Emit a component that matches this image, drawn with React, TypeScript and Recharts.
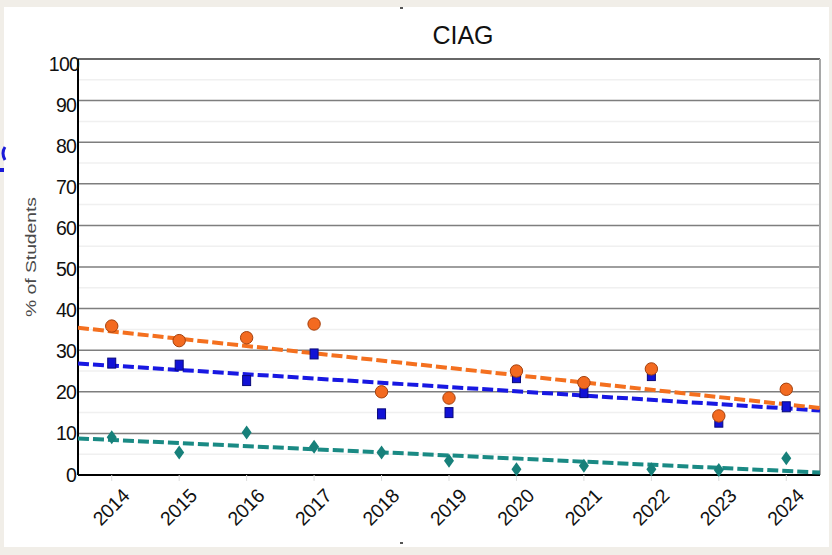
import React from "react";
import {
  ComposedChart,
  Scatter,
  XAxis,
  YAxis,
  CartesianGrid,
  ReferenceLine,
} from "recharts";

const years = [2014, 2015, 2016, 2017, 2018, 2019, 2020, 2021, 2022, 2023, 2024];
const orangeValues = [35.8, 32.3, 33.0, 36.3, 20.0, 18.5, 25.0, 22.2, 25.5, 14.2, 20.6];
const blueValues = [26.9, 26.4, 22.7, 29.1, 14.7, 15.0, 23.4, 19.8, 23.9, 12.7, 16.4];
const tealValues = [9.1, 5.4, 10.2, 6.8, 5.4, 3.4, 1.4, 2.2, 1.4, 1.2, 4.0];

const trendYears = [2013.5, 2024.5];
const orangeTrend = [35.4, 16.1];
const blueTrend = [26.8, 15.5];
const tealTrend = [8.8, 0.6];

const yTicks = [0, 10, 20, 30, 40, 50, 60, 70, 80, 90, 100];
const minorTicks = [5, 15, 25, 35, 45, 55, 65, 75, 85, 95];

const title = "CIAG";
const yLabel = "% of Students";

const toPoints = (xs: number[], ys: number[]) => xs.map((x, i) => ({ x, y: ys[i] }));

const orangeData = toPoints(years, orangeValues);
const blueData = toPoints(years, blueValues);
const tealData = toPoints(years, tealValues);
const orangeTrendData = toPoints(trendYears, orangeTrend);
const blueTrendData = toPoints(trendYears, blueTrend);
const tealTrendData = toPoints(trendYears, tealTrend);

const FONT = '"Liberation Sans", Arial, sans-serif';

const CircleShape = (p: any) => (
  <circle cx={p.cx} cy={p.cy} r={6.2} fill="#f36a20" stroke="#a4410e" strokeWidth={1} />
);
const SquareShape = (p: any) => (
  <rect x={p.cx - 4} y={p.cy - 5} width={8} height={10} fill="#1212d6" stroke="#08087a" strokeWidth={1} />
);
const DiamondShape = (p: any) => (
  <path
    d={`M${p.cx},${p.cy - 7} L${p.cx + 5},${p.cy} L${p.cx},${p.cy + 7} L${p.cx - 5},${p.cy} Z`}
    fill="#17807a"
  />
);
const NoShape = () => <g />;

const YTick = (p: any) => {
  const v = p.payload.value;
  return (
    <text
      x={p.x + (v === 100 ? 3 : 0)}
      y={p.y + (v / 100) * 5 - 0.5}
      textAnchor="end"
      dominantBaseline="central"
      fontFamily={FONT}
      fontSize={19.5}
      letterSpacing={-0.8}
      fill="#111111"
    >
      {v}
    </text>
  );
};

const XTick = (p: any) => {
  const x = p.x + 19;
  const y = p.y + 14;
  return (
    <text
      x={x}
      y={y}
      transform={`rotate(-45, ${x}, ${y})`}
      textAnchor="end"
      fontFamily={FONT}
      fontSize={19.5}
      letterSpacing={-0.3}
      fill="#111111"
    >
      {p.payload.value}
    </text>
  );
};

export default function App() {
  return (
    <div
      style={{
        position: "absolute",
        left: 0,
        top: 0,
        width: 832,
        height: 555,
        background: "#f1eee8",
        overflow: "hidden",
      }}
    >
      <div
        style={{
          position: "absolute",
          left: 4,
          top: 7,
          width: 825,
          height: 540,
          background: "#ffffff",
        }}
      />
      <div style={{ position: "absolute", left: 0, top: 0 }}>
        <ComposedChart
          width={832}
          height={555}
          margin={{ top: 59, right: 12, left: 8, bottom: 0 }}
        >
          <CartesianGrid vertical={false} stroke="#7e7e7e" strokeWidth={1.5} />
          {minorTicks.map((t) => (
            <ReferenceLine key={t} y={t} stroke="#f0f0f0" strokeWidth={1.5} />
          ))}
          <ReferenceLine y={100} stroke="#555555" strokeWidth={1.5} />
          <ReferenceLine x={2024.5} stroke="#a8a8a8" strokeWidth={2} />
          <XAxis
            type="number"
            dataKey="x"
            domain={[2013.5, 2024.5]}
            ticks={years}
            interval={0}
            allowDataOverflow
            height={80}
            axisLine={{ stroke: "#000", strokeWidth: 2 }}
            tickLine={{ stroke: "#dddddd" }}
            tickSize={6}
            tickMargin={2}
            tick={<XTick />}
          />
          <YAxis
            type="number"
            dataKey="y"
            domain={[0, 100]}
            ticks={yTicks}
            interval={0}
            width={70}
            axisLine={{ stroke: "#000", strokeWidth: 2 }}
            tickLine={false}
            tickSize={0}
            tickMargin={2}
            tick={<YTick />}
          />
          <Scatter
            data={tealTrendData}
            shape={NoShape}
            line={{ stroke: "#1a8a84", strokeWidth: 4, strokeDasharray: "11 4" }}
            isAnimationActive={false}
          />
          <Scatter
            data={blueTrendData}
            shape={NoShape}
            line={{ stroke: "#1818e2", strokeWidth: 4, strokeDasharray: "11 4" }}
            isAnimationActive={false}
          />
          <Scatter
            data={orangeTrendData}
            shape={NoShape}
            line={{ stroke: "#f4701f", strokeWidth: 4, strokeDasharray: "11 4" }}
            isAnimationActive={false}
          />
          <Scatter data={tealData} shape={DiamondShape} isAnimationActive={false} />
          <Scatter data={blueData} shape={SquareShape} isAnimationActive={false} />
          <Scatter data={orangeData} shape={CircleShape} isAnimationActive={false} />
        </ComposedChart>
      </div>
      <svg
        width={832}
        height={555}
        style={{ position: "absolute", left: 0, top: 0, pointerEvents: "none" }}
      >
        <text
          x={463}
          y={44}
          textAnchor="middle"
          fontFamily={FONT}
          fontSize={25}
          fill="#111111"
        >
          {title}
        </text>
        <text
          x={36}
          y={257}
          transform="rotate(-90, 36, 257)"
          textAnchor="middle"
          fontFamily={FONT}
          fontSize={14}
          fill="#4a4a4a"
          textLength={120}
          lengthAdjust="spacingAndGlyphs"
        >
          {yLabel}
        </text>
        <path d="M5,147 Q1,153 5,160" stroke="#1a1ad8" strokeWidth={3} fill="none" />
        <rect x={0} y={168} width={4} height={4} fill="#1a1ad8" />
        <rect x={400} y={7} width={3} height={2} fill="#555555" />
        <rect x={400} y={542} width={3} height={2} fill="#555555" />
      </svg>
    </div>
  );
}
